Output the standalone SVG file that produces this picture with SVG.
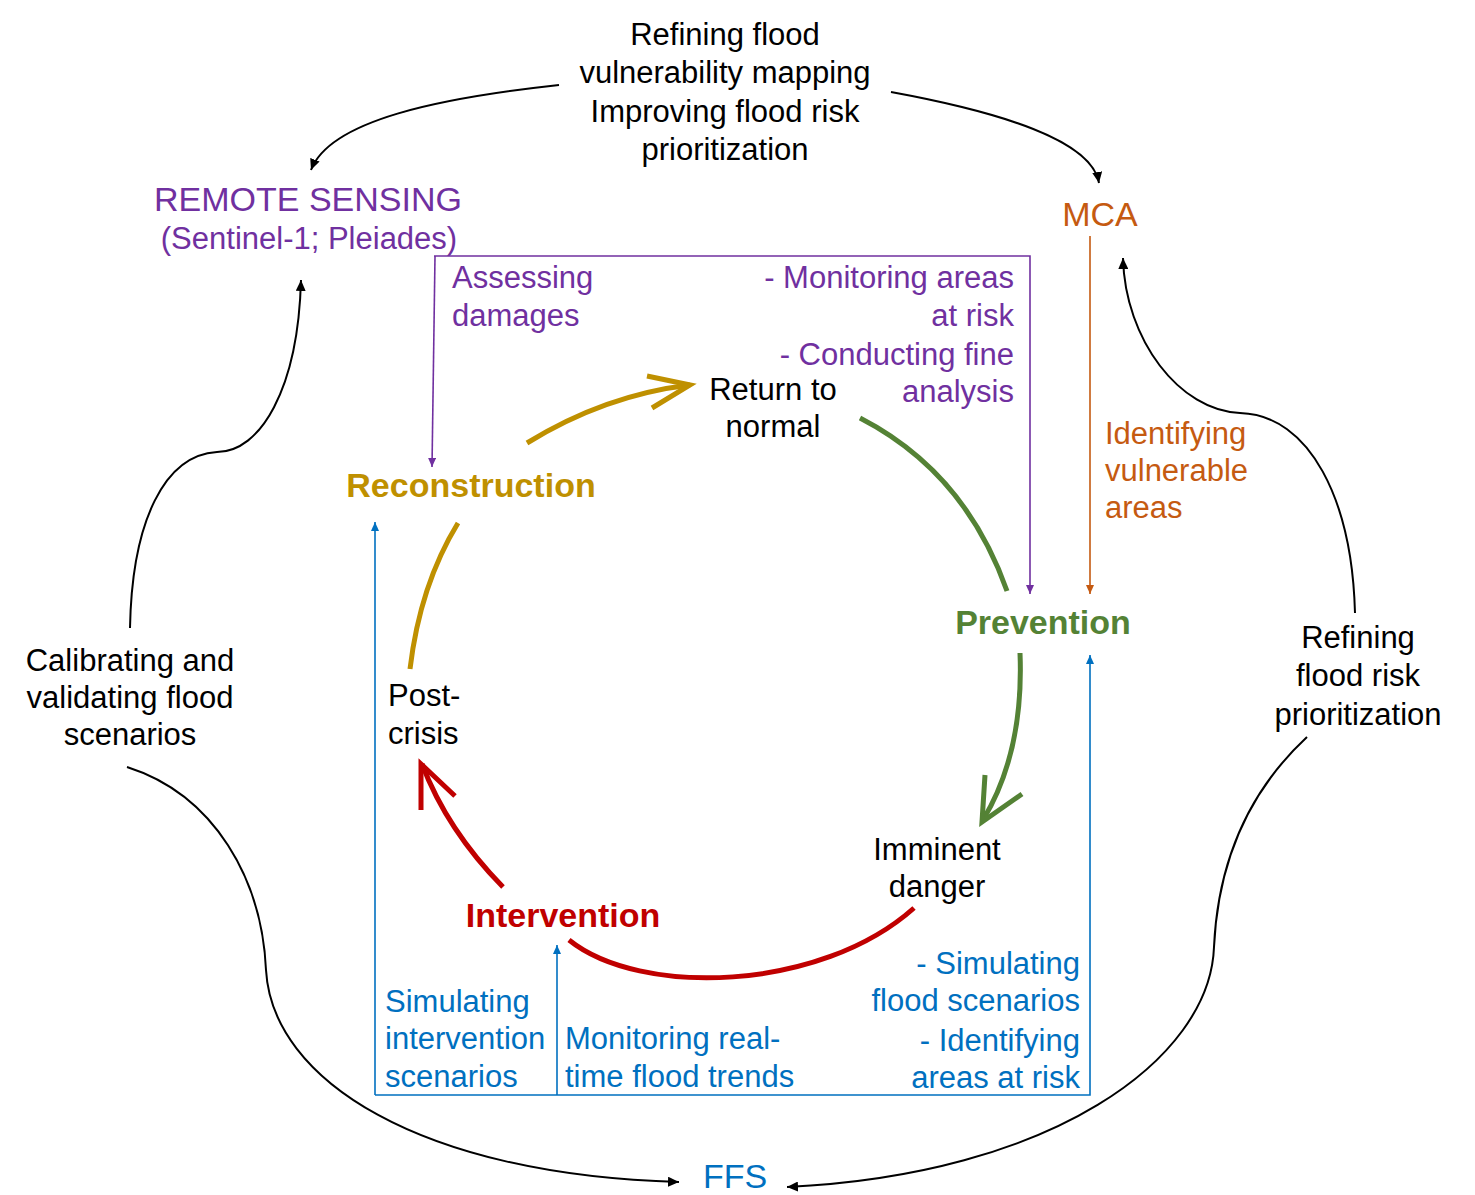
<svg xmlns="http://www.w3.org/2000/svg" width="1475" height="1195" viewBox="0 0 1475 1195">
<style>
text{font-family:"Liberation Sans",Arial,Helvetica,sans-serif;font-size:31px}
.blk{fill:#000}
.pur{fill:#7030A0}
.org{fill:#C55A11}
.blu{fill:#0070C0}
.hd{font-size:34px}
.bold{font-size:34px;font-weight:bold}
.mid{text-anchor:middle}
.end{text-anchor:end}
.conn{fill:none;stroke:#000;stroke-width:2}
.thin{fill:none;stroke-width:1.6}
.cyc{fill:none;stroke-width:5;stroke-linecap:butt;stroke-linejoin:miter}
</style>
<defs>
<marker id="ah" markerUnits="userSpaceOnUse" markerWidth="12" markerHeight="10" refX="11" refY="5" orient="auto"><path d="M0,0 L11,5 L0,10 z" fill="#000"/></marker>
<marker id="ap" markerUnits="userSpaceOnUse" markerWidth="10" markerHeight="8" refX="9" refY="4" orient="auto"><path d="M0,0 L9,4 L0,8 z" fill="#7030A0"/></marker>
<marker id="ao" markerUnits="userSpaceOnUse" markerWidth="10" markerHeight="8" refX="9" refY="4" orient="auto"><path d="M0,0 L9,4 L0,8 z" fill="#C55A11"/></marker>
<marker id="ab" markerUnits="userSpaceOnUse" markerWidth="10" markerHeight="8" refX="9" refY="4" orient="auto"><path d="M0,0 L9,4 L0,8 z" fill="#0070C0"/></marker>
</defs>

<g id="connectors">
<path class="conn" d="M559,85 C440,98 330,120 311,170" marker-end="url(#ah)"/>
<path class="conn" d="M891,92 C1000,112 1092,140 1099,183" marker-end="url(#ah)"/>
<path class="conn" d="M130,628 C132,520 165,455 217,452 C260,452 298,390 301,280" marker-end="url(#ah)"/>
<path class="conn" d="M1355,613 C1352,500 1310,415 1240,413 C1180,411 1125,340 1123,258" marker-end="url(#ah)"/>
<path class="conn" d="M127,767 C215,795 262,880 266,970 C272,1080 420,1175 679,1182" marker-end="url(#ah)"/>
<path class="conn" d="M1307,737 C1250,790 1218,860 1214,947 C1210,1060 1050,1175 787,1187" marker-end="url(#ah)"/>
<path class="thin" stroke="#7030A0" d="M434,256 L1030,256 L1030,594" marker-end="url(#ap)"/>
<path class="thin" stroke="#7030A0" d="M435,256 L432,467" marker-end="url(#ap)"/>
<path class="thin" stroke="#C55A11" d="M1090,236 L1090,594" marker-end="url(#ao)"/>
<path class="thin" stroke="#0070C0" d="M375,1095 L375,522" marker-end="url(#ab)"/>
<path class="thin" stroke="#0070C0" d="M375,1095 L1090,1095 L1090,655" marker-end="url(#ab)"/>
<path class="thin" stroke="#0070C0" d="M557,1095 L557,945" marker-end="url(#ab)"/>
<path class="cyc" stroke="#BF9000" d="M527,443 Q605,395 690,385"/>
<path class="cyc" stroke="#BF9000" d="M647,376 L690,385 L652,408"/>
<path class="cyc" stroke="#BF9000" d="M458,523 Q420,585 410,669"/>
<path class="cyc" stroke="#548235" d="M860,418 Q965,472 1007,591"/>
<path class="cyc" stroke="#548235" d="M1020,653 Q1024,752 983,820"/>
<path class="cyc" stroke="#548235" d="M985,775 L982,822 L1022,794"/>
<path class="cyc" stroke="#C00000" d="M914,908 C820,992 640,997 569,940"/>
<path class="cyc" stroke="#C00000" d="M503,887 Q447,830 422,764"/>
<path class="cyc" stroke="#C00000" d="M421,810 L421,764 L455,796"/>
</g>

<g id="top-label"><text class="blk mid" x="725" y="45">Refining flood</text><text class="blk mid" x="725" y="83">vulnerability mapping</text><text class="blk mid" x="725" y="122">Improving flood risk</text><text class="blk mid" x="725" y="160">prioritization</text></g>
<g id="remote-sensing"><text class="pur mid hd" x="308" y="211">REMOTE SENSING</text><text class="pur mid" x="309" y="249">(Sentinel-1; Pleiades)</text></g>
<g id="mca"><text class="org mid hd" x="1100" y="226">MCA</text></g>
<g id="ffs"><text class="blu mid hd" x="735" y="1188">FFS</text></g>
<g id="assessing"><text class="pur" x="452" y="288">Assessing</text><text class="pur" x="452" y="326">damages</text></g>
<g id="monitoring-areas"><text class="pur end" x="1014" y="288">- Monitoring areas</text><text class="pur end" x="1014" y="326">at risk</text><text class="pur end" x="1014" y="365">- Conducting fine</text><text class="pur end" x="1014" y="402">analysis</text></g>
<g id="identifying-vulnerable"><text class="org" x="1105" y="444">Identifying</text><text class="org" x="1105" y="481">vulnerable</text><text class="org" x="1105" y="518">areas</text></g>
<g id="refining-right"><text class="blk mid" x="1358" y="648">Refining</text><text class="blk mid" x="1358" y="686">flood risk</text><text class="blk mid" x="1358" y="725">prioritization</text></g>
<g id="calibrating"><text class="blk mid" x="130" y="671">Calibrating and</text><text class="blk mid" x="130" y="708">validating flood</text><text class="blk mid" x="130" y="745">scenarios</text></g>
<g id="return-normal"><text class="blk mid" x="773" y="400">Return to</text><text class="blk mid" x="773" y="437">normal</text></g>
<g id="reconstruction"><text class="bold mid" fill="#BF9000" x="471" y="497">Reconstruction</text></g>
<g id="prevention"><text class="bold mid" fill="#548235" x="1043" y="634">Prevention</text></g>
<g id="post-crisis"><text class="blk" x="388" y="706">Post-</text><text class="blk" x="388" y="744">crisis</text></g>
<g id="imminent"><text class="blk mid" x="937" y="860">Imminent</text><text class="blk mid" x="937" y="897">danger</text></g>
<g id="intervention"><text class="bold mid" fill="#C00000" x="563" y="927">Intervention</text></g>
<g id="sim-intervention"><text class="blu" x="385" y="1012">Simulating</text><text class="blu" x="385" y="1049">intervention</text><text class="blu" x="385" y="1087">scenarios</text></g>
<g id="monitoring-realtime"><text class="blu" x="565" y="1049">Monitoring real-</text><text class="blu" x="565" y="1087">time flood trends</text></g>
<g id="sim-flood"><text class="blu end" x="1080" y="974">- Simulating</text><text class="blu end" x="1080" y="1011">flood scenarios</text><text class="blu end" x="1080" y="1051">- Identifying</text><text class="blu end" x="1080" y="1088">areas at risk</text></g>
</svg>
